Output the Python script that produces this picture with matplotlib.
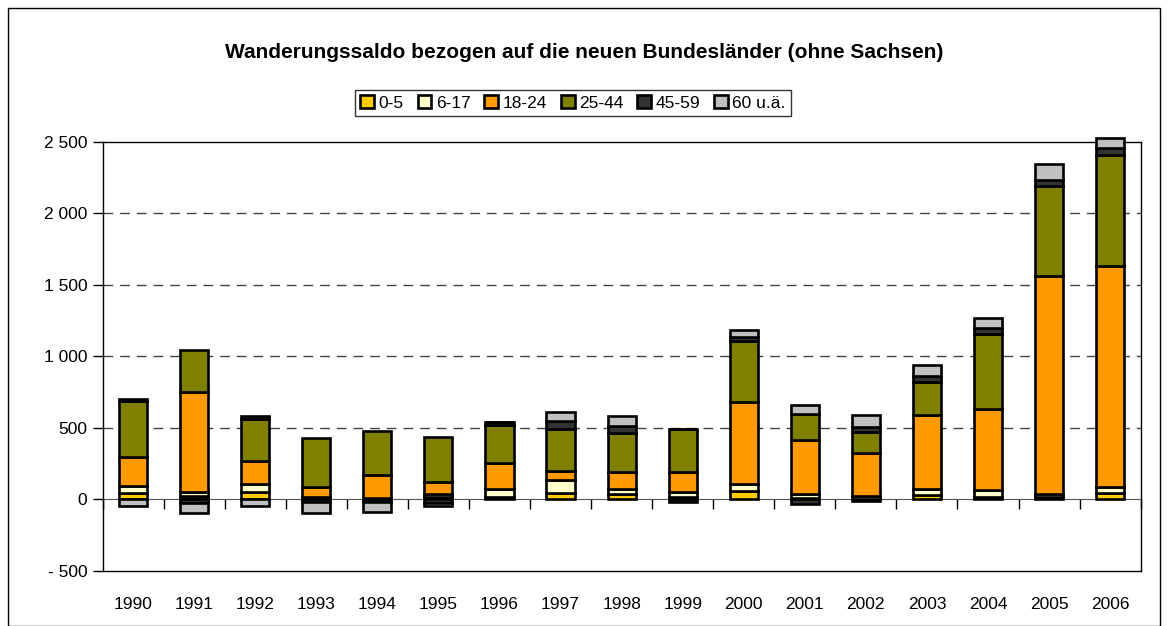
import matplotlib.pyplot as plt
import numpy as np
from matplotlib.patches import Rectangle
from matplotlib.ticker import FuncFormatter

plt.rcParams['font.family'] = ['Liberation Sans', 'DejaVu Sans']

years = [str(y) for y in range(1990, 2007)]
series_names = ['0-5', '6-17', '18-24', '25-44', '45-59', '60 u.ä.']
colors = ['#FFCC00', '#FFFFCC', '#FF9900', '#808000', '#333333', '#C0C0C0']

age_0_5 = [45, 25, 50, 10, 5, 15, 20, 45, 35, 15, 60, 10, -10, 30, 15, 15, 45]
age_6_17 = [50, 30, 55, 10, 5, 25, 50, 90, 40, 35, 50, 25, 23, 40, 50, 25, 40]
age_18_24 = [205, 695, 165, 70, 160, 80, 185, 65, 115, 140, 575, 380, 303, 520, 570, 1520, 1550]
age_25_44 = [390, 295, 290, 340, 310, 320, 265, 295, 275, 300, 425, 180, 144, 235, 520, 630, 775]
age_45_59 = [15, -28, 25, -20, -20, -25, 25, 55, 50, -20, 28, -30, 38, 35, 45, 45, 45]
age_60 = [-45, -65, -45, -75, -65, -20, 0, 65, 70, 0, 47, 65, 81, 80, 70, 110, 70]

series = [age_0_5, age_6_17, age_18_24, age_25_44, age_45_59, age_60]

fig = plt.figure(figsize=(11.68, 6.26), dpi=100)
fig.patches.append(Rectangle((8 / 1168, 0), 1 - 16 / 1168, 1 - 8 / 626,
                             transform=fig.transFigure, fill=False,
                             edgecolor='black', linewidth=1))
ax = fig.add_axes([0.0878, 0.0879, 0.8888, 0.6853])

x = np.arange(len(years))
pos_base = np.zeros(len(years))
neg_base = np.zeros(len(years))
for name, col, vals in zip(series_names, colors, series):
    v = np.array(vals, dtype=float)
    bottom = np.where(v >= 0, pos_base, neg_base)
    bars = ax.bar(x, v, 0.46, bottom=bottom, color=col, edgecolor='black',
                  linewidth=1.9, label=name, zorder=3)
    for b in bars:
        b.set_clip_on(False)
    pos_base += np.clip(v, 0, None)
    neg_base += np.clip(v, None, 0)

ax.set_xlim(-0.5, len(years) - 0.5)
ax.set_ylim(-500, 2500)
ax.set_yticks(np.arange(-500, 2501, 500))


def fmt(v, pos):
    s = f'{abs(int(v)):,}'.replace(',', ' ')
    return '- ' + s if v < 0 else s


ax.yaxis.set_major_formatter(FuncFormatter(fmt))
ax.tick_params(axis='y', direction='out', length=7, width=1, labelsize=12.5, pad=4)

for g in range(500, 2001, 500):
    ax.axhline(g, color='#444444', linewidth=1, dashes=(7, 5), zorder=1)

# category axis crosses at zero, labels sit at the bottom of the plot area
ax.spines['bottom'].set_position(('data', 0))
ax.spines['bottom'].set_color('#555555')
ax.spines['bottom'].set_zorder(2)
ax.set_xticks(np.arange(-0.5, len(years), 1.0))
ax.tick_params(axis='x', direction='out', length=7, width=1, color='black',
               labelbottom=False)
for s in ['left', 'top', 'right']:
    ax.spines[s].set_linewidth(1)

sec = ax.secondary_xaxis(0.0)
sec.set_xticks(x)
sec.set_xticklabels(years)
sec.tick_params(length=0, labelsize=12.5, pad=19)
sec.spines['bottom'].set_linewidth(1)

leg = fig.legend(loc='center', bbox_to_anchor=(573 / 1168, 1 - 103 / 626), ncol=6,
                 fontsize=12.5, frameon=True, fancybox=False, edgecolor='black',
                 handlelength=0.8, handleheight=0.8, handletextpad=0.25,
                 columnspacing=0.8, borderpad=0.3, borderaxespad=0)
leg.get_frame().set_linewidth(1)

fig.text(0.5, 1 - 53 / 626, 'Wanderungssaldo bezogen auf die neuen Bundesländer (ohne Sachsen)',
         ha='center', va='center', fontsize=15, fontweight='bold')

fig.savefig('out.png', dpi=100)
